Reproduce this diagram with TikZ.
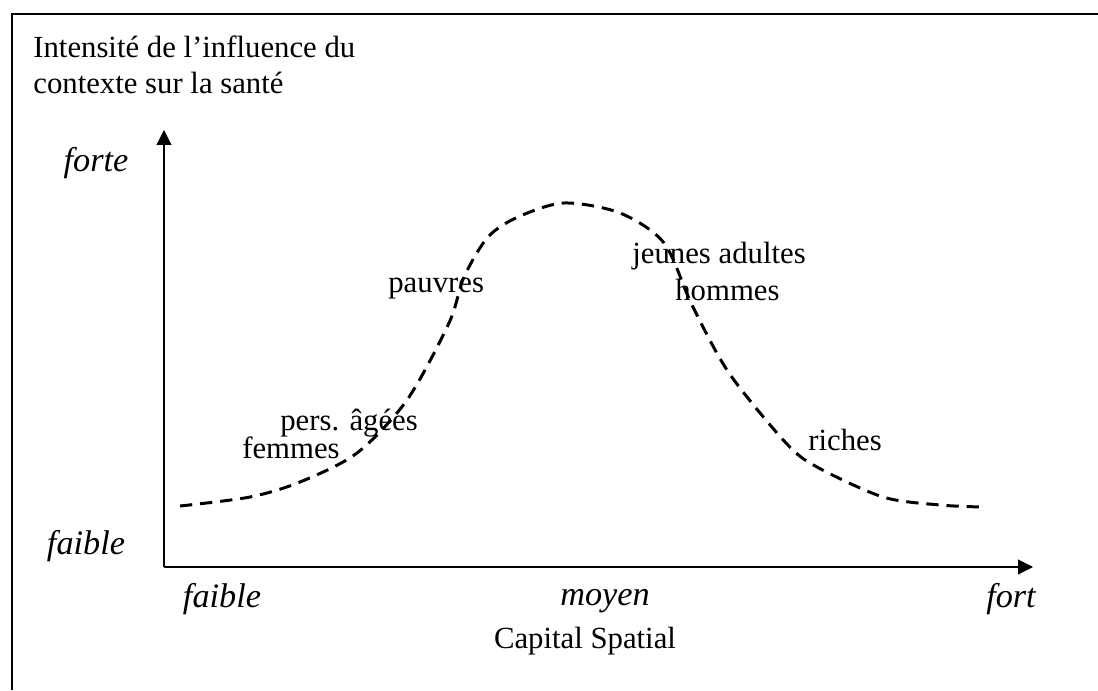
\documentclass[tikz,border=0pt]{standalone}
\usepackage{fontspec}
\setmainfont{Liberation Serif}
\usepackage{tikz}
\usetikzlibrary{arrows.meta}

\begin{document}
\begin{tikzpicture}[x=0.02cm,y=-0.02cm,
  lbl/.style={inner sep=0pt,font=\fontsize{17.5}{21}\selectfont},
  itl/.style={inner sep=0pt,font=\fontsize{19.5}{23}\selectfont\itshape},
  axis/.style={line width=0.6pt,-{Triangle[length=8.5pt,width=8.5pt]}}]
\useasboundingbox (0,0) rectangle (1098,690);
% frame
\draw[line width=1.2pt] (12,690) -- (12,14) -- (1098,14);
% axes
\coordinate (origin) at (164,567);
\coordinate (ytip) at (164,130);
\coordinate (xtip) at (1033,567);
\draw[axis] (origin) -- (ytip);
\draw[axis] (origin) -- (xtip);
% title of the y axis
\node[lbl,anchor=base west] (ytitle) at (33,57) {Intensité de l'influence du};
\node[lbl,anchor=base west] (ytitle2) at (33,93) {contexte sur la santé};
% y levels
\node[itl] (yhigh) at (96,163) {forte};
\node[itl] (ylow) at (86,546) {faible};
% x levels
\node[itl] (xlow) at (222,599) {faible};
\node[itl] (xmid) at (605,601) {moyen};
\node[itl] (xhigh) at (1011,599) {fort};
\node[lbl] (xtitle) at (585,641) {Capital Spatial};
% curve
\draw[line width=1.7pt,dash pattern=on 7pt off 4.5pt]
  plot[smooth,tension=0.5] coordinates {(180,506) (250,497) (300,482) (357,453)
  (407,400) (449,323) (464,277) (488,237) (518,217) (564,203) (620,213)
  (664,243) (692,305) (729,373) (786,443) (817,467) (883,497) (940,505) (982,507)};
% groups
\node[lbl,anchor=base west] (pauvres) at (388,292) {pauvres};
\node[lbl,anchor=base west] (jeunes) at (632,263) {jeunes adultes};
\node[lbl,anchor=base west] (hommes) at (675,300) {hommes};
\node[lbl,anchor=base west] (ages) at (280,430) {pers. âgées};
\node[lbl,anchor=base east] (femmes) at (340,458) {femmes};
\node[lbl,anchor=base west] (riches) at (808,450) {riches};
\end{tikzpicture}
\end{document}
